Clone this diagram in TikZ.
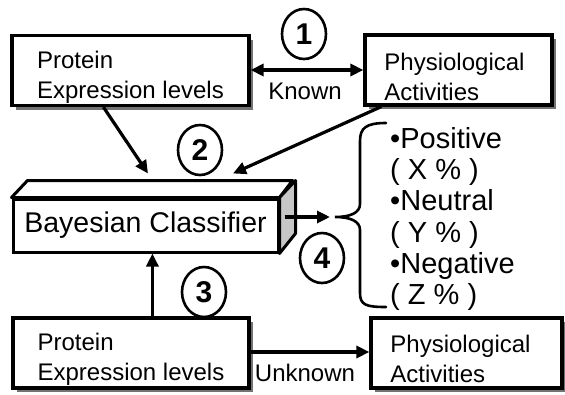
\documentclass[tikz,border=0pt]{standalone}
\usepackage{fontspec}
\setmainfont{Liberation Sans}
\usetikzlibrary{arrows.meta,shadows,calc,shapes.geometric}
\begin{document}
\begin{tikzpicture}[x=1pt,y=-1pt,
  box/.style={draw, line width=3.2pt, fill=white, inner sep=0pt,
    minimum height=70pt,
    drop shadow={shadow xshift=4pt, shadow yshift=-4pt, fill=black!55, opacity=1}},
  boxtxt/.style={align=left, inner sep=0pt, font=\fontsize{24}{30}\selectfont},
  num/.style={draw, ellipse, line width=2.6pt, minimum width=44pt, minimum height=50pt,
    inner sep=0pt, font=\fontsize{30}{30}\selectfont\bfseries},
  arr/.style={line width=3.2pt, -{Triangle[length=13pt,width=12pt]}},
  dbl/.style={line width=3.2pt, {Triangle[length=13pt,width=12pt]}-{Triangle[length=13pt,width=12pt]}},
  lbl/.style={inner sep=0pt, font=\fontsize{24}{30}\selectfont},
]
\useasboundingbox (0,0) rectangle (565,394);

% boxes
\node[box, minimum width=237pt] (pe1) at (130.5,70.5) {};
\node[boxtxt] (pe1t) at ($(pe1.center)+(0,7)$) {Protein\\Expression levels};
\node[box, minimum width=187pt] (pa1) at (458.5,70) {};
\node[boxtxt] (pa1t) at ($(pa1.center)+(-4,7)$) {Physiological\\Activities};
\node[box, minimum width=236pt] (pe2) at (131,353) {};
\node[boxtxt] (pe2t) at ($(pe2.center)+(0,6)$) {Protein\\Expression levels};
\node[box, minimum width=191pt] (pa2) at (466.5,353) {};
\node[boxtxt] (pa2t) at ($(pa2.center)+(-6,6)$) {Physiological\\Activities};

% Bayesian classifier (3D box)
\node[draw, line width=3pt, fill=white, minimum width=265pt, minimum height=53pt, inner sep=0pt,
  font=\fontsize{28.5}{30}\selectfont] (bc) at (145.5,225.5) {Bayesian Classifier};
\draw[line width=3pt, line join=round, fill=white] (bc.north west) -- ++(16,-17) -- ++(265,0) -- (bc.north east) -- cycle;
\draw[line width=3pt, line join=round, fill=black!22] (bc.north east) -- ++(16,-17) -- ++(0,53) -- (bc.south east) -- cycle;

% numbered circles
\node[num] (n1) at (304,34) {1};
\node[num] (n2) at (200,150) {2};
\node[num] (n3) at (204,292) {3};
\node[num] (n4) at (322,258) {4};

% connectors
\draw[dbl] (pe1.east |- 0,70) -- (pa1.west |- 0,70);
\node[lbl] (known) at (305,91) {Known};

\draw[arr] ($(pe1.south west)+(93,0)$) -- ($(bc.north)+(2.5,-24)$);
\draw[arr] ($(pa1.south west)+(18,0)$) -- ($(bc.north)+(87.5,-24)$);

\draw[arr] ($(pe2.north west)+(141,0)$) coordinate (u) -- (u |- bc.south);

\draw[arr] (pe2.east |- 0,352) -- (pa2.west |- 0,352);
\node[lbl] (unknown) at (305,373) {Unknown};

% brace and results
\coordinate (bt) at (335,217);
\draw[arr] ($(bc.east)+(5,-8.5)$) -- ($(bt)+(-5,0)$);
\draw[line width=2.6pt, line cap=round]
  (386,123) .. controls (366,123) and (360,128) .. (360,141)
  -- (360,204) .. controls (360,213) and (350,217) .. (bt)
  .. controls (350,217) and (360,221) .. (360,230)
  -- (360,293) .. controls (360,305) and (366,307) .. (386,307);
\node[anchor=west, align=left, inner sep=0pt, font=\fontsize{29}{31.2}\selectfont] (res) at (390,219)
  {•Positive\\( X \% )\\•Neutral\\( Y \% )\\•Negative\\( Z \% )};
\end{tikzpicture}
\end{document}
